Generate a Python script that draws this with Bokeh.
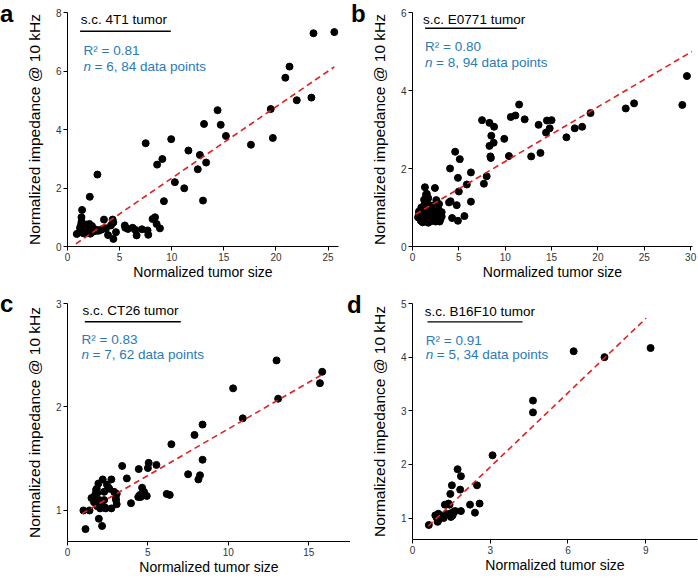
import numpy as np
from bokeh.plotting import figure
from bokeh.models import Range1d, FixedTicker, Label, BoxAnnotation, GridBox, Div
from bokeh.embed import file_html
from bokeh.resources import INLINE

FONT = "Liberation Sans"
BLUE = "#2a7ab8"
RED = "#e02020"

# ---------------- data ----------------
# panel a: s.c. 4T1 tumor
a_x = [23.6, 25.6, 21.3, 20.9, 22.0, 23.4, 19.5, 14.4, 19.7, 13.1, 14.7, 15.2, 17.6, 9.95,
       7.5, 11.6, 12.7, 9.1, 8.6, 13.3, 12.5, 2.87, 10.3, 11.2, 2.14, 9.25, 13.0, 1.40,
       8.4, 8.16, 8.55, 8.87, 7.68, 7.75, 7.14, 6.5, 6.25, 6.63, 5.8, 5.55, 4.4, 3.89,
       4.65, 4.33, 3.5, 4.17, 1.34, 1.34, 2.1, 0.89, 1.53, 1.91, 2.42, 2.87, 3.38, 1.2,
       1.4, 1.66, 1.78, 2.2, 2.6, 3.0, 1.3, 1.5, 1.6, 1.9, 2.0, 2.3, 2.5, 1.25,
       1.45, 1.7, 2.05, 2.7, 3.2, 1.8, 1.35, 2.35, 4.4, 3.7, 1.15, 2.2, 5.5, 1.55]
a_y = [7.29, 7.33, 6.15, 5.77, 5.0, 5.09, 4.70, 4.66, 3.71, 4.19, 4.16, 3.78, 3.48, 3.67,
       3.53, 3.28, 3.13, 2.99, 2.80, 2.87, 2.64, 2.46, 2.20, 1.99, 1.70, 1.55, 1.57, 1.25,
       1.0, 0.94, 0.77, 0.62, 0.55, 0.40, 0.59, 0.57, 0.64, 0.38, 0.60, 0.64, 0.26, 0.39,
       0.49, 0.92, 0.92, 0.72, 1.0, 0.80, 0.77, 0.43, 0.45, 0.50, 0.51, 0.55, 0.60, 0.64,
       0.60, 0.55, 0.68, 0.58, 0.52, 0.54, 0.72, 0.70, 0.62, 0.60, 0.66, 0.62, 0.57, 0.55,
       0.50, 0.45, 0.48, 0.58, 0.57, 0.75, 0.85, 0.70, 0.82, 0.62, 0.48, 0.44, 0.72, 0.58]
a_fit_x = [0.8, 25.6]
a_slope, a_intercept = 0.244, -0.105

# panel b: s.c. E0771 tumor
b_x = [29.6, 29.1, 23.9, 23.0, 19.2, 18.3, 17.5, 16.6, 15.0, 14.5, 13.6, 14.8, 14.4, 13.8,
       12.8, 11.5, 11.1, 10.6, 12.1, 9.9, 10.4, 7.5, 8.3, 8.8, 8.5, 8.75, 8.3, 8.4, 8.45,
       8.0, 7.7, 4.6, 5.1, 4.05, 6.3, 4.9, 5.86, 5.0, 6.3, 3.94, 4.1, 4.77, 5.6, 4.27, 4.9,
       1.34, 2.42, 1.45, 1.55, 1.7, 2.57, 2.86, 1.27, 1.55, 2.06, 2.5, 3.15, 3.15, 2.93,
       0.69, 0.76, 0.9, 1.3, 1.7, 2.06, 2.5, 1.41, 1.05, 0.6,
       0.8, 1.0, 1.15, 1.2, 1.4, 1.6, 1.8, 1.9, 2.2, 2.3, 1.1, 1.5, 2.7, 1.0, 1.75, 2.1,
       0.95, 1.25, 2.35, 1.6, 0.7, 1.9, 2.8, 1.35, 3.0]
b_y = [4.37, 3.63, 3.67, 3.54, 3.42, 3.07, 3.03, 2.80, 3.24, 3.23, 3.12, 3.03, 2.92, 2.40,
       2.31, 3.64, 3.36, 3.32, 3.26, 2.76, 2.32, 3.24, 3.17, 3.07, 2.84, 2.66, 2.58, 2.31, 2.27,
       1.80, 1.61, 2.43, 2.24, 2.0, 1.90, 1.76, 1.59, 1.41, 1.15, 1.13, 1.16, 1.06, 0.78, 0.73, 0.66,
       1.52, 1.50, 1.33, 1.35, 1.24, 1.19, 1.09, 1.07, 1.03, 0.92, 0.83, 0.88, 0.77, 0.64,
       0.83, 0.73, 0.66, 0.67, 0.61, 0.66, 0.64, 0.77, 0.88, 0.75,
       0.80, 0.72, 0.78, 0.95, 0.88, 0.82, 0.72, 0.98, 0.75, 0.68, 0.62, 0.66, 0.72, 0.85, 0.90, 1.05,
       1.0, 1.2, 0.90, 1.10, 0.90, 0.64, 0.95, 0.72, 0.69]
b_fit_x = [0.33, 30.15]
b_slope, b_intercept = 0.14, 0.78

# panel c: s.c. CT26 tumor
c_x = [13.0, 15.84, 15.7, 10.3, 13.1, 10.9, 8.4, 7.9, 6.46, 8.4, 7.5, 8.24, 8.14, 5.05,
       5.0, 5.53, 4.43, 3.4, 3.69, 4.64, 4.7, 4.4, 4.55, 4.93, 6.17, 6.36, 3.95, 2.19,
       2.73, 1.82, 2.55, 1.74, 1.49, 2.28, 3.06, 3.0, 1.78, 2.28, 2.11, 2.32, 2.73, 1.86,
       3.06, 0.99, 1.37, 1.95, 1.12, 2.15,
       1.78, 1.86, 1.99, 2.6, 2.03, 2.37, 4.76, 1.7, 2.45, 3.02, 1.65, 2.9, 1.92, 4.5]
c_y = [2.45, 2.34, 2.23, 2.18, 2.08, 1.89, 1.83, 1.73, 1.64, 1.49, 1.35, 1.34, 1.30, 1.46,
       1.41, 1.44, 1.40, 1.43, 1.31, 1.22, 1.18, 1.13, 1.13, 1.14, 1.16, 1.15, 1.07, 1.30,
       1.30, 1.21, 1.22, 1.16, 1.12, 1.18, 1.16, 1.12, 1.09, 1.10, 1.04, 1.03, 1.02, 1.04,
       1.06, 1.0, 1.0, 0.92, 0.82, 0.85,
       1.20, 1.17, 1.10, 1.21, 1.02, 1.02, 1.18, 1.14, 1.25, 1.10, 1.08, 1.18, 1.26, 1.15]
c_fit_x = [0.91, 15.9]
c_slope, c_intercept = 0.09, 0.888

# panel d: s.c. B16F10 tumor
d_x = [9.19, 6.22, 7.41, 4.65, 4.65, 3.09, 1.74, 1.87, 1.52, 2.49, 1.84, 1.46, 1.25, 1.39,
       2.22, 2.59, 1.65, 1.87, 2.41, 1.29, 1.48, 1.48, 0.88, 0.94, 0.97, 0.63,
       1.12, 1.35, 0.99, 1.43, 1.6, 1.2, 1.0, 1.55]
d_y = [4.17, 4.11, 4.0, 3.19, 2.97, 2.17, 1.91, 1.78, 1.61, 1.61, 1.53, 1.45, 1.25, 1.27,
       1.25, 1.27, 1.13, 1.13, 1.10, 1.07, 1.09, 1.02, 1.05, 1.0, 0.93, 0.87,
       1.04, 1.07, 0.95, 1.25, 1.12, 1.0, 1.08, 1.05]
d_fit_x = [0.61, 9.02]
d_slope, d_intercept = 0.461, 0.569

titles = ["s.c. 4T1 tumor", "s.c. E0771 tumor", "s.c. CT26 tumor", "s.c. B16F10 tumor"]
r2_texts = ["R\u00b2 = 0.81", "R\u00b2 = 0.80", "R\u00b2 = 0.83", "R\u00b2 = 0.91"]
n_texts = ["= 6, 84 data points", "= 8, 94 data points", "= 7, 62 data points", "= 5, 34 data points"]
letters = ["a", "b", "c", "d"]

a_xticks = [0, 5, 10, 15, 20, 25]
a_yticks = [0, 2, 4, 6, 8]
b_xticks = [0, 5, 10, 15, 20, 25, 30]
b_yticks = [0, 2, 4, 6]
c_xticks = [0, 5, 10, 15]
c_yticks = [1, 2, 3]
d_xticks = [0, 3, 6, 9]
d_yticks = [1, 2, 3, 4, 5]

TEXT_SHIFT = 4  # raise annotation texts


def add_label(p, text, x, y, size, color="black", style="normal", x_offset=0):
    p.add_layout(Label(x=x, y=y, x_units="screen", y_units="screen", text=text,
                       x_offset=x_offset,
                       text_font=FONT, text_font_size=size, text_color=color,
                       text_font_style=style, text_baseline="alphabetic",
                       text_align="left"))


def make_panel(idx, xs, ys, fit_x, slope, intercept, xr, yr, xticks, yticks,
               fw, fh, mb, pos):
    p = figure(frame_width=fw, frame_height=fh, output_backend="svg", toolbar_location=None,
               x_range=Range1d(*xr), y_range=Range1d(*yr),
               min_border_left=mb[0], min_border_right=mb[1],
               min_border_top=mb[2], min_border_bottom=mb[3])
    p.outline_line_color = None
    p.xgrid.visible = False
    p.ygrid.visible = False
    p.background_fill_color = "white"
    p.border_fill_color = "white"

    p.scatter(xs, ys, size=7, color="black")
    fx = np.array(fit_x)
    fy = slope * fx + intercept
    p.line(fx, fy, line_dash="6 4", line_width=1.6, color=RED)

    p.xaxis.ticker = FixedTicker(ticks=xticks, minor_ticks=[])
    p.yaxis.ticker = FixedTicker(ticks=yticks, minor_ticks=[])
    for ax in (p.xaxis[0], p.yaxis[0]):
        ax.axis_line_color = "black"
        ax.axis_line_width = 1
        ax.major_tick_line_color = "black"
        ax.major_tick_out = 4
        ax.major_tick_in = 0
        ax.minor_tick_out = 0
        ax.minor_tick_in = 0
        ax.major_label_text_font = FONT
        ax.major_label_text_font_size = "10px"
        ax.major_label_text_color = "#333333"
        ax.major_label_standoff = 2
        ax.axis_label_text_font = FONT
        ax.axis_label_text_font_style = "normal"
        ax.axis_label_text_color = "black"
    p.xaxis.axis_label = "Normalized tumor size"
    p.xaxis.axis_label_text_font_size = "14px"
    p.xaxis.axis_label_standoff = 0
    p.yaxis.axis_label = "Normalized impedance @ 10 kHz"
    p.yaxis.axis_label_text_font_size = "15.5px"
    p.yaxis.axis_label_standoff = 10

    # positions: distances measured from the frame's top-left corner
    tx, ty, ul0, ul1, uly, rx, ry, ny = pos
    add_label(p, titles[idx], tx, fh - ty + TEXT_SHIFT, "13.5px")
    p.add_layout(BoxAnnotation(left=ul0, right=ul1, bottom=fh - uly - 0.7, top=fh - uly + 0.7,
                               left_units="screen", right_units="screen",
                               bottom_units="screen", top_units="screen",
                               fill_color="black", fill_alpha=1.0, line_color=None))
    add_label(p, r2_texts[idx], rx, fh - ry + TEXT_SHIFT, "13.5px", color=BLUE)
    add_label(p, "n", rx, fh - ny + TEXT_SHIFT, "13.5px", color=BLUE, style="italic")
    add_label(p, n_texts[idx], rx, fh - ny + TEXT_SHIFT, "13.5px", color=BLUE, x_offset=11)
    return p


def letter_div(idx, dx, dy):
    html = ('<div style="font-family: \'Liberation Sans\', Arial, sans-serif; font-weight: bold; '
            'font-size: 24px; line-height: 27px; color: black; position: relative; '
            'left: %dpx; top: %dpx;">%s</div>' % (dx, dy, letters[idx]))
    return Div(text=html, width=20, height=34, margin=(0, 0, 0, 0))


pa = make_panel(0, a_x, a_y, a_fit_x, a_slope, a_intercept, (0, 26), (0, 8),
                a_xticks, a_yticks, 271, 234, (67, 8, 12, 40),
                (13.3, 11, 12.6, 103.3, 18.7, 16, 42, 57.5))
pb = make_panel(1, b_x, b_y, b_fit_x, b_slope, b_intercept, (0, 30.2), (0, 6),
                b_xticks, b_yticks, 280, 234, (61, 11, 8, 44),
                (10.6, 11, 12.6, 104.3, 15.7, 12.6, 38.4, 54.2))
pc = make_panel(2, c_x, c_y, c_fit_x, c_slope, c_intercept, (0, 17.6), (0.7, 3),
                c_xticks, c_yticks, 283, 238, (67, 0, 15, 37),
                (15, 11, 17.3, 113.3, 18.3, 14, 40, 55.3))
pd_ = make_panel(3, d_x, d_y, d_fit_x, d_slope, d_intercept, (0, 11.0), (0.6, 5),
                 d_xticks, d_yticks, 285, 236, (62, 1, 17, 37),
                 (12.3, 11.7, 15, 110, 18.4, 13.3, 40.7, 55.2))

la = letter_div(0, 0, 0)
lb = letter_div(1, 1, 0)
lc = letter_div(2, 0, 4)
ld = letter_div(3, -3, 5)

layout = GridBox(children=[(pa, 0, 0), (pb, 0, 1), (pc, 1, 0), (pd_, 1, 1),
                           (la, 0, 0), (lb, 0, 1), (lc, 1, 0), (ld, 1, 1)],
                 spacing=0)
open("out.html", "w").write(file_html(layout, INLINE))
